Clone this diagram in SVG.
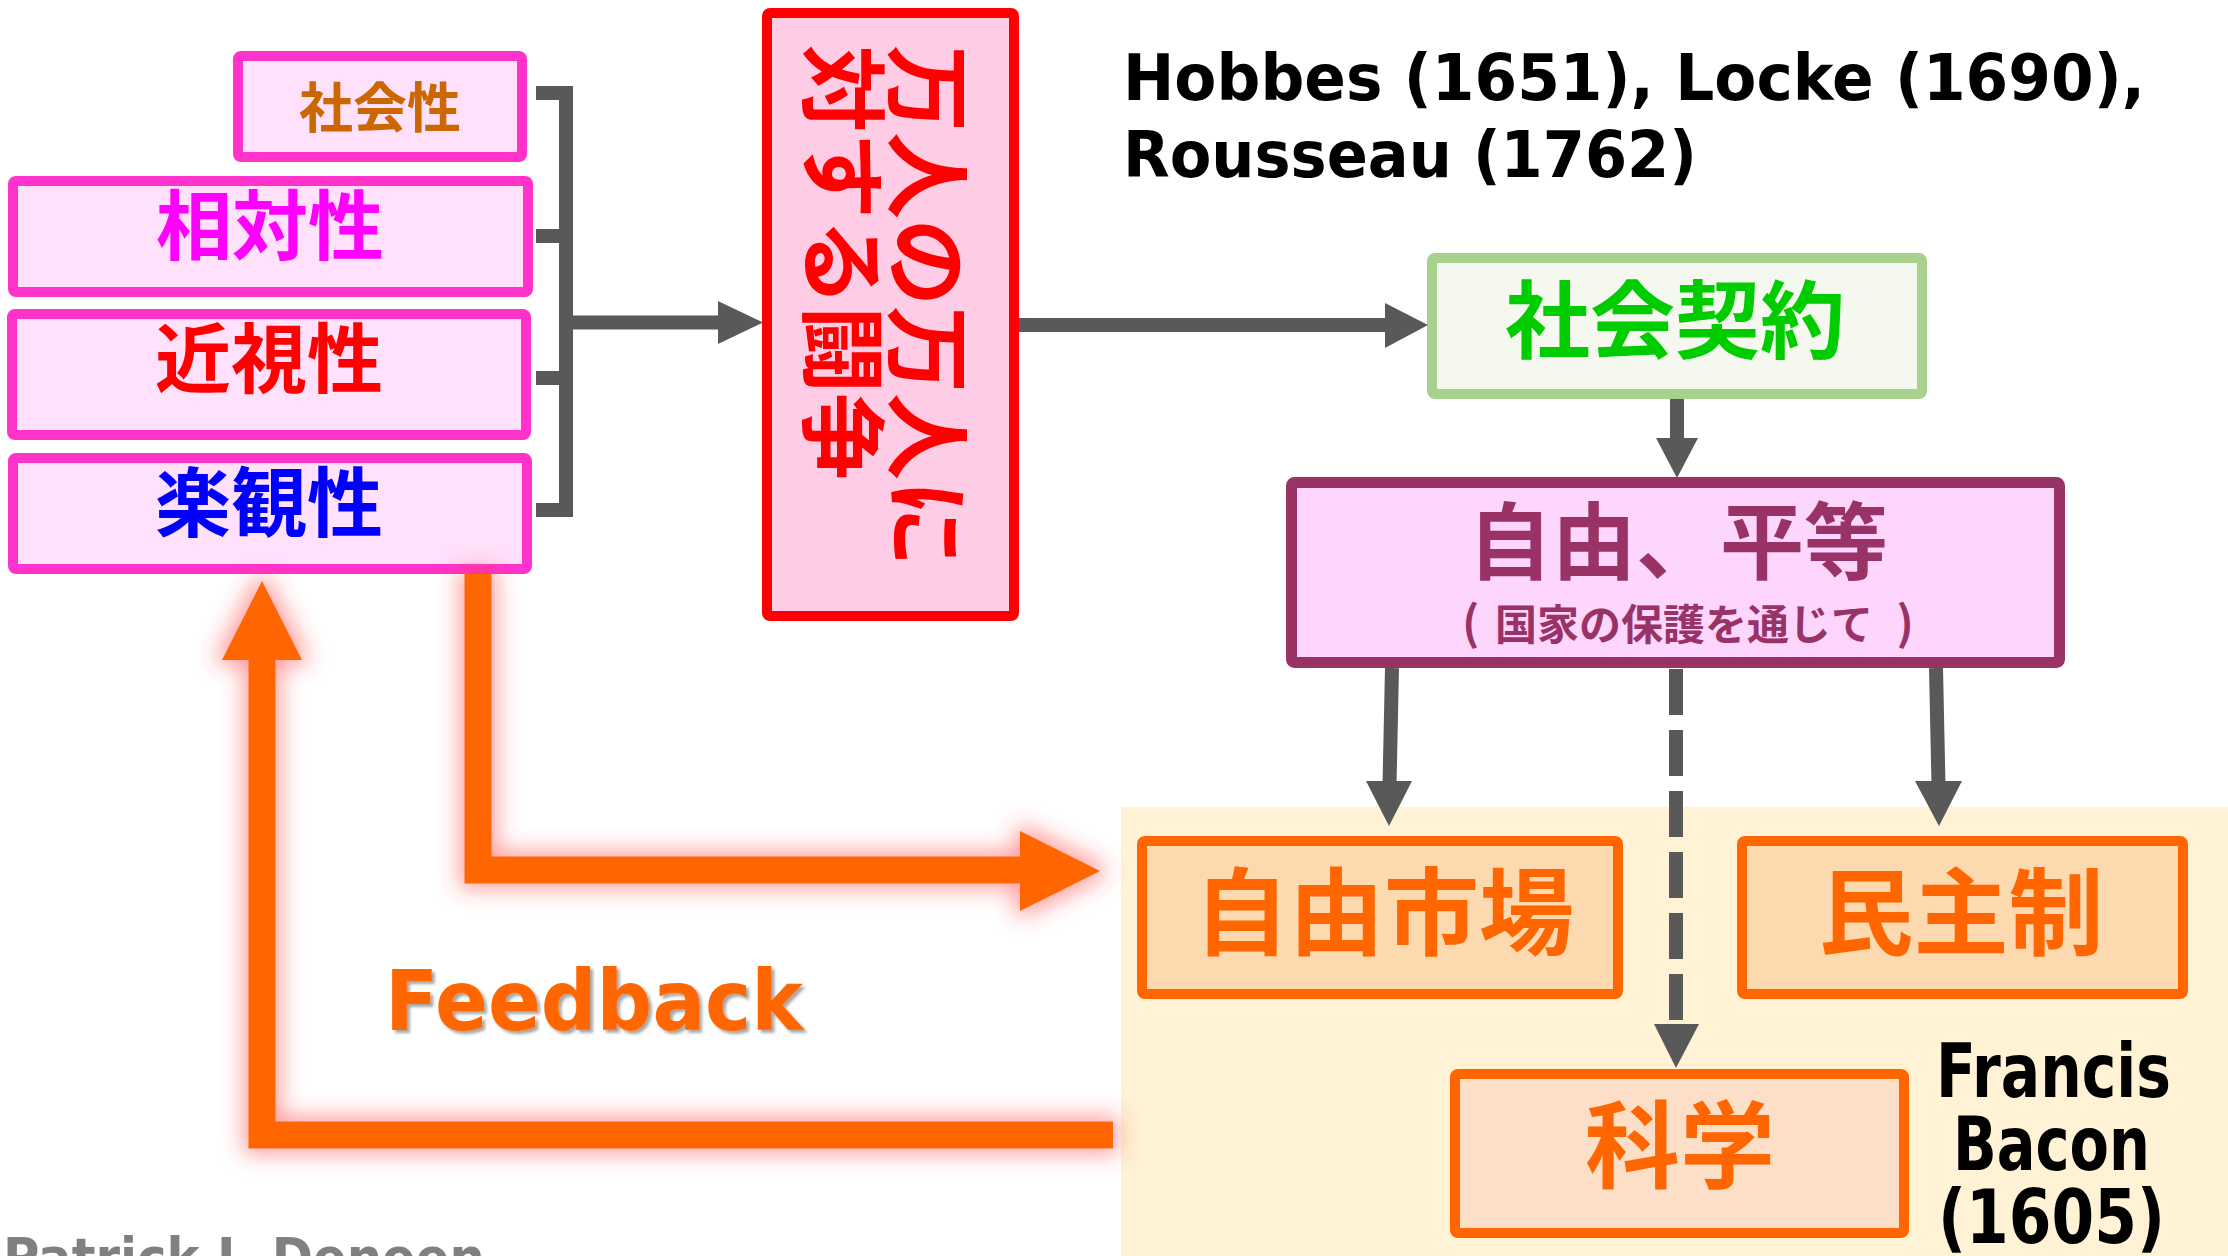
<svg xmlns="http://www.w3.org/2000/svg" width="2228" height="1256" viewBox="0 0 2228 1256">
<defs>
<style>
.jp{font-family:"Noto Sans CJK JP","Noto Sans CJK SC",sans-serif;font-weight:700;}
.lat{font-family:"DejaVu Sans","Liberation Sans",sans-serif;font-weight:700;}
.pinkbox{fill:#FFE1FC;stroke:#FF33CC;stroke-width:10;}
.obox{stroke:#FF6600;stroke-width:10;}
.otext{fill:#FF6600;font-size:95px;text-anchor:middle;}
.ltext{font-size:76px;text-anchor:middle;}
.gray{stroke:#595959;stroke-width:14;fill:none;}
.ghead{fill:#595959;}
.orange{stroke:#FF6600;stroke-width:27;fill:none;stroke-linejoin:miter;}
.ohead{fill:#FF6600;}
</style>
<filter id="glow" filterUnits="userSpaceOnUse" x="0" y="0" width="2228" height="1256">
<feMorphology in="SourceAlpha" operator="dilate" radius="5" result="d"/>
<feGaussianBlur in="d" stdDeviation="11" result="b"/>
<feFlood flood-color="#FF3C3C" flood-opacity="0.5"/>
<feComposite in2="b" operator="in" result="g"/>
<feMerge><feMergeNode in="g"/><feMergeNode in="SourceGraphic"/></feMerge>
</filter>
<filter id="shadow" x="-5%" y="-10%" width="115%" height="130%">
<feDropShadow dx="3" dy="3" stdDeviation="1.5" flood-color="#000" flood-opacity="0.35"/>
</filter>
</defs>
<rect x="0" y="0" width="2228" height="1256" fill="#FFFFFF"/>
<rect id="bg-yellow" x="1121" y="807" width="1107" height="449" fill="#FFF2D5"/>

<g id="node-shakaisei">
<rect class="pinkbox" x="238" y="56" width="284" height="101" rx="3"/>
<text class="jp" x="380" y="128" font-size="54" text-anchor="middle" fill="#CC6600">社会性</text>
</g>
<g id="node-soutaisei">
<rect class="pinkbox" x="13" y="181" width="515" height="111" rx="3"/>
<text class="jp ltext" x="270" y="254" fill="#FF00FF">相対性</text>
</g>
<g id="node-kinshisei">
<rect class="pinkbox" x="12" y="314" width="514" height="121" rx="3"/>
<text class="jp ltext" x="269" y="387" fill="#FF0000">近視性</text>
</g>
<g id="node-rakkansei">
<rect class="pinkbox" x="13" y="458" width="514" height="111" rx="3"/>
<text class="jp ltext" x="269" y="531" fill="#0000FF">楽観性</text>
</g>

<g id="node-banninn">
<rect x="767" y="13" width="247" height="603" rx="3" fill="#FFCCE5" stroke="#FF0000" stroke-width="10"/>
<text class="jp" transform="translate(895,45) rotate(90)" font-size="87" fill="#FF0000">万人の万人に</text>
<text class="jp" transform="translate(810,45) rotate(90)" font-size="87" fill="#FF0000">対する闘争</text>
</g>

<g id="label-philosophers">
<text class="lat" x="1123" y="100" font-size="64" fill="#000000" textLength="1022" lengthAdjust="spacingAndGlyphs">Hobbes (1651), Locke (1690),</text>
<text class="lat" x="1123" y="177" font-size="64" fill="#000000" textLength="574" lengthAdjust="spacingAndGlyphs">Rousseau (1762)</text>
</g>

<g id="node-shakaikeiyaku">
<rect x="1432" y="258" width="490" height="136" rx="3" fill="#F4F8EF" stroke="#A9D18E" stroke-width="10"/>
<text class="jp" x="1675" y="352" font-size="85" text-anchor="middle" fill="#00CC00">社会契約</text>
</g>

<g id="node-jiyuubyoudou">
<rect x="1291.5" y="482.5" width="768" height="180" rx="3" fill="#FDD5FD" stroke="#993366" stroke-width="11"/>
<text class="jp" x="1678" y="573" font-size="84" text-anchor="middle" fill="#993366">自由、平等</text>
<text class="jp" x="1462" y="640" font-size="46" fill="#993366">(</text>
<text class="jp" x="1684" y="640" font-size="42" text-anchor="middle" fill="#993366">国家の保護を通じて</text>
<text class="jp" x="1914" y="640" font-size="46" text-anchor="end" fill="#993366">)</text>
</g>

<g id="node-jiyuushijou">
<rect class="obox" x="1142" y="841" width="476" height="153" rx="3" fill="#FCD9AE"/>
<text class="jp otext" x="1384" y="948">自由市場</text>
</g>
<g id="node-minshusei">
<rect class="obox" x="1742" y="841" width="441" height="153" rx="3" fill="#FCD9AE"/>
<text class="jp otext" x="1961" y="948">民主制</text>
</g>
<g id="node-kagaku">
<rect class="obox" x="1455" y="1074" width="449" height="159" rx="3" fill="#FDDFC8"/>
<text class="jp otext" x="1680" y="1181">科学</text>
</g>

<g id="label-bacon">
<text class="lat" x="1936" y="1097" font-size="75" fill="#000000" textLength="235" lengthAdjust="spacingAndGlyphs">Francis</text>
<text class="lat" x="1953" y="1170" font-size="75" fill="#000000" textLength="197" lengthAdjust="spacingAndGlyphs">Bacon</text>
<text class="lat" x="1938" y="1243" font-size="75" fill="#000000" textLength="227" lengthAdjust="spacingAndGlyphs">(1605)</text>
</g>

<g id="label-feedback" filter="url(#shadow)">
<text class="lat" x="385" y="1030" font-size="84" fill="#FF6600" textLength="418" lengthAdjust="spacingAndGlyphs">Feedback</text>
</g>

<g id="label-author">
<text class="lat" x="3" y="1276" font-size="54" fill="#808080" textLength="482" lengthAdjust="spacingAndGlyphs">Patrick J. Deneen</text>
</g>

<g id="connectors">
<path class="gray" d="M536,93 H566 V510 H536 M536,236 H566 M536,378 H566 M566,322.5 H722"/>
<polygon class="ghead" points="718,301 763,322.5 718,344"/>
<path class="gray" d="M1019,325 H1390"/>
<polygon class="ghead" points="1385,303 1428,325 1385,348"/>
<path class="gray" d="M1677,399 V442"/>
<polygon class="ghead" points="1656,438 1677,478 1698,438"/>
<path class="gray" d="M1392,668 L1389.5,785"/>
<polygon class="ghead" points="1366,781 1389,826 1412,781"/>
<path class="gray" d="M1936,668 L1938.5,785"/>
<polygon class="ghead" points="1915,781 1939,826 1962,781"/>
<path class="gray" d="M1676,669 V1022" stroke-dasharray="46 15"/>
<polygon class="ghead" points="1654,1024 1676,1068 1699,1024"/>
<g id="feedback-arrows" filter="url(#glow)">
<path class="orange" d="M478,574 V870 H1022"/>
<polygon class="ohead" points="1020,831 1100,871 1020,911"/>
<path class="orange" d="M1113,1135 H262 V655"/>
<polygon class="ohead" points="222,660 262,581 302,660"/>
</g>
</g>
</svg>
